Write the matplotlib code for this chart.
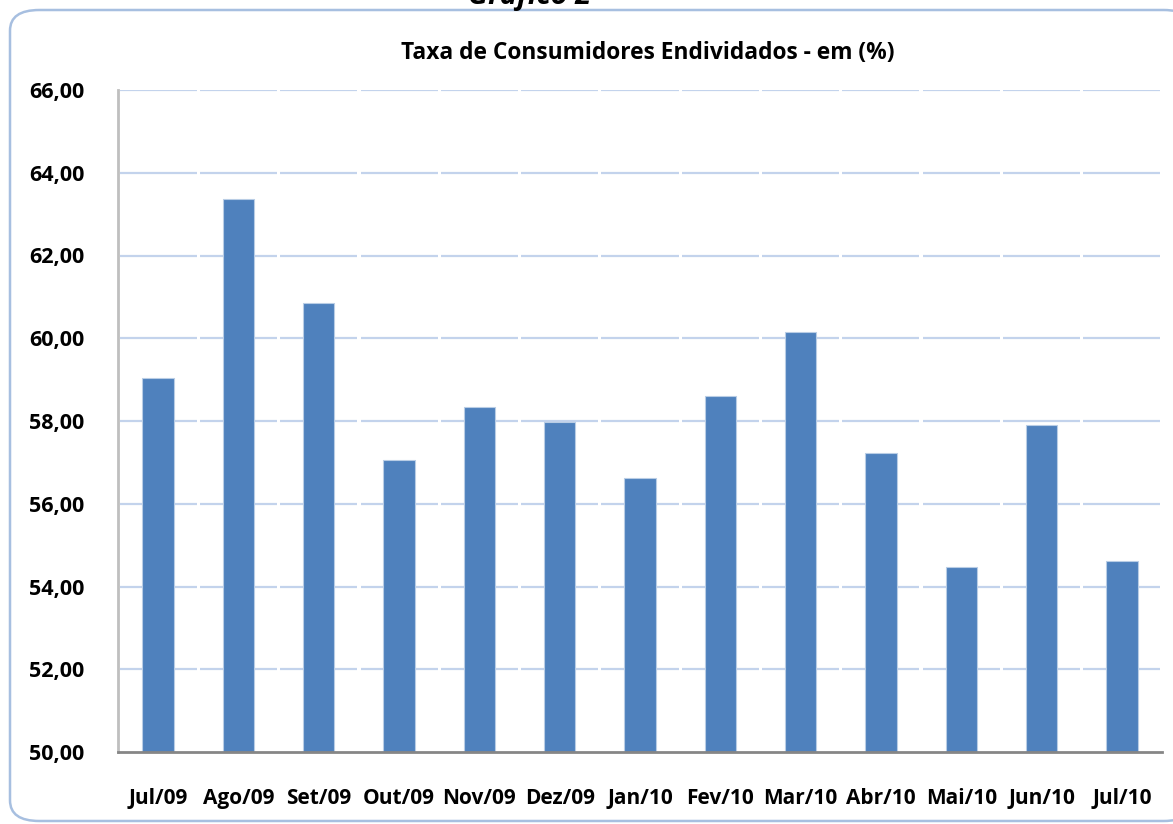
import matplotlib
matplotlib.use("Agg")
import matplotlib.pyplot as plt
from matplotlib.patches import FancyBboxPatch
from matplotlib.ticker import FuncFormatter

categories = ["Jul/09", "Ago/09", "Set/09", "Out/09", "Nov/09", "Dez/09", "Jan/10",
              "Fev/10", "Mar/10", "Abr/10", "Mai/10", "Jun/10", "Jul/10"]
values = [59.05, 63.37, 60.84, 57.05, 58.34, 57.98, 56.62,
          58.61, 60.14, 57.22, 54.46, 57.90, 54.62]
yticks = [50, 52, 54, 56, 58, 60, 62, 64, 66]
title = "Taxa de Consumidores Endividados - em (%)"
header = "Gráfico 2"

plt.rcParams['font.family'] = ['Open Sans', 'DejaVu Sans']

W, H = 1173, 824
fig = plt.figure(figsize=(W / 100, H / 100), dpi=100)

# rounded border frame
frame = FancyBboxPatch((10 / W, 3 / H), (W + 20 - 10) / W, (H - 13) / H,
                       boxstyle="round,pad=0,rounding_size=0.025",
                       transform=fig.transFigure, facecolor="white",
                       edgecolor="#A7BFE0", linewidth=1.8, zorder=-5)
frame.set_clip_on(False)
fig.patches.append(frame)

ax = fig.add_axes([118 / W, (H - 752) / H, (1162 - 118) / W, (752 - 90) / H])
ax.set_facecolor("none")
ax.set_zorder(2)
n = len(categories)
x = list(range(n))

# gridlines segmented at category boundaries
for yv in yticks[1:]:
    for i in x:
        ax.hlines(yv, i - 0.5 + 0.02, i + 0.5 - 0.02, color="#C3D3EC", linewidth=1.6, zorder=1)

ax.bar(x, values, width=0.39, color="#4F81BD", edgecolor="#B9CDE5", linewidth=0.8, zorder=2)

ax.set_xlim(-0.5, n - 0.5)
ax.set_ylim(50, 66)
ax.set_yticks(yticks)
ax.yaxis.set_major_formatter(FuncFormatter(lambda v, p: f"{v:.2f}".replace(".", ",")))
ax.set_xticks(x)
ax.set_xticklabels(categories)
ax.tick_params(axis="y", length=0, pad=24, labelsize=15.5)
ax.tick_params(axis="x", length=0, pad=26, labelsize=15)
for lab in ax.get_xticklabels() + ax.get_yticklabels():
    lab.set_fontweight("bold")

for s in ["top", "right"]:
    ax.spines[s].set_visible(False)
ax.spines["left"].set_color("#BFBFBF")
ax.spines["left"].set_linewidth(2)
ax.spines["bottom"].set_color("#868686")
ax.spines["bottom"].set_linewidth(2)

fig.text(648 / W, 1 - 53 / H, title, ha="center", va="center", fontsize=16.4, fontweight="bold")
fig.text(530 / W, 1 - 4 / H, header, ha="center", va="baseline", fontsize=21,
         fontweight="bold", fontstyle="italic")

fig.savefig("out.png", dpi=100)
